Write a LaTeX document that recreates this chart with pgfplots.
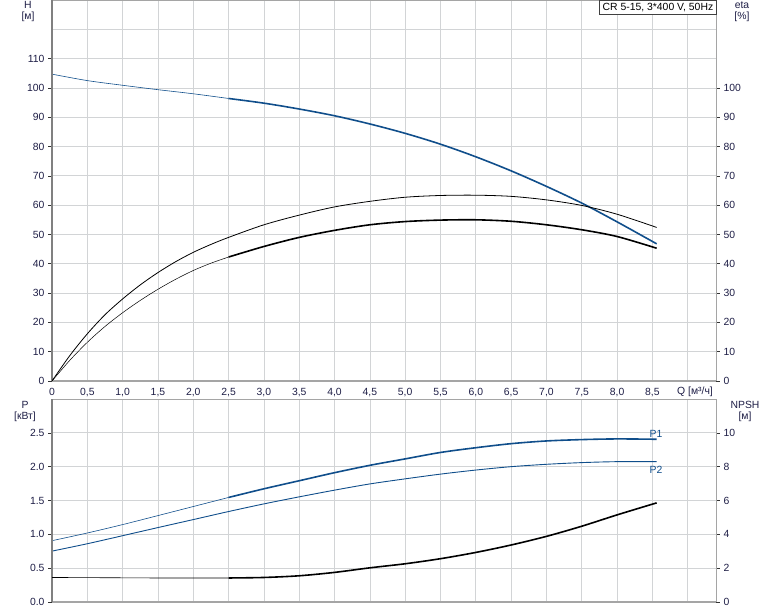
\documentclass[border=0pt]{standalone}
\usepackage{fontspec}
\setmainfont{Liberation Sans}
\usepackage{pgfplots}
\pgfplotsset{compat=1.18}
\definecolor{cblue}{RGB}{16,78,139}
\definecolor{txt}{RGB}{30,30,70}
\definecolor{gridc}{RGB}{210,212,214}
\definecolor{axc}{RGB}{128,128,128}
\definecolor{axl}{RGB}{165,165,165}

\pgfplotstableread{
x y
0 104.7
0.5 102.5
1.0 100.9
1.5 99.4
2.0 98.0
2.5 96.4
}\Hthin
\pgfplotstableread{
x y
2.5 96.4
3.0 94.8
3.5 92.8
4.0 90.5
4.5 87.7
5.0 84.5
5.5 80.8
6.0 76.5
6.5 71.7
7.0 66.4
7.5 60.7
8.0 54.3
8.56 46.8
}\Hthick
\pgfplotstableread{
x y
0 0
0.25 8.6
0.5 16.1
0.75 22.6
1.0 28.0
1.25 32.8
1.5 37.0
1.75 40.7
2.0 43.9
2.25 46.6
2.5 49.0
3.0 53.3
3.5 56.6
4.0 59.4
4.5 61.3
5.0 62.7
5.5 63.3
6.0 63.4
6.5 63.0
7.0 61.8
7.5 59.9
8.0 56.9
8.56 52.4
}\etaA
\pgfplotstableread{
x y
0 0
0.25 7.0
0.5 13.2
0.75 18.6
1.0 23.3
1.25 27.5
1.5 31.3
1.75 34.7
2.0 37.7
2.25 40.2
2.5 42.3
}\etaBthin
\pgfplotstableread{
x y
2.5 42.3
3.0 45.9
3.5 49.0
4.0 51.4
4.5 53.3
5.0 54.4
5.5 54.9
6.0 55.0
6.5 54.5
7.0 53.3
7.5 51.6
8.0 49.3
8.56 45.3
}\etaBthick
\pgfplotstableread{
x y
0 0.906
0.5 1.02
1.0 1.144
1.5 1.277
2.0 1.411
2.5 1.545
}\Pone
\pgfplotstableread{
x y
2.5 1.545
3.0 1.673
3.5 1.792
4.0 1.911
4.5 2.02
5.0 2.115
5.5 2.21
6.0 2.28
6.5 2.34
7.0 2.38
7.5 2.40
8.0 2.41
8.56 2.405
}\Ponethick
\pgfplotstableread{
x y
0 0.752
0.5 0.861
1.0 0.98
1.5 1.10
2.0 1.218
2.5 1.337
3.0 1.45
3.5 1.554
4.0 1.653
4.5 1.745
5.0 1.82
5.5 1.89
6.0 1.95
6.5 2.0
7.0 2.035
7.5 2.06
8.0 2.074
8.56 2.075
}\Ptwo
\pgfplotstableread{
x y
0 1.45
0.5 1.44
1.0 1.43
1.5 1.42
2.0 1.42
2.5 1.42
}\NPSHthin
\pgfplotstableread{
x y
2.5 1.42
3.0 1.45
3.5 1.55
4.0 1.75
4.5 2.02
5.0 2.26
5.5 2.56
6.0 2.93
6.5 3.37
7.0 3.88
7.5 4.48
8.0 5.15
8.56 5.86
}\NPSHthick

\pgfplotsset{
  base/.style={
    scale only axis, width=664pt, xmin=0, xmax=9.4, anchor=south west,
    font=\fontsize{10.4}{12}\selectfont,
    /pgf/number format/assume math mode=true,
    tick label style={text=txt},
    axis line style={draw=axl, line width=0.8pt},
    grid style={gridc, line width=0.7pt},
    y tick style={draw=black!80, line width=0.6pt},
    x tick style={draw=none},
    major tick length=4pt, tick align=outside,
    xtick={0,0.5,1,1.5,2,2.5,3,3.5,4,4.5,5,5.5,6,6.5,7,7.5,8,8.5,9},
    xtick pos=bottom,
  },
  leftax/.style={
    base, grid=major, ytick pos=left,
    after end axis/.code={
      \draw[line width=1.6pt, draw=axl] (rel axis cs:0,0)--(rel axis cs:1,0);
      \draw[line width=1.6pt, draw=axc] (rel axis cs:0,0)--(rel axis cs:0,1);
    },
  },
  rightax/.style={
    base, axis x line=none, axis y line*=right,
  },
}

\begin{document}
\begin{tikzpicture}
\useasboundingbox (0pt,0pt) rectangle (774pt,611pt);

% ---------- top: H ----------
\begin{axis}[leftax, at={(52pt,230pt)}, height=381pt,
  ymin=0, ymax=130,
  ytick={0,10,...,110},
  extra y ticks={120}, extra y tick labels={},
  extra y tick style={major tick length=0pt},
  xticklabels={0,{0,5},{1,0},{1,5},{2,0},{2,5},{3,0},{3,5},{4,0},{4,5},{5,0},{5,5},{6,0},{6,5},{7,0},{7,5},{8,0},{8,5},{}},
]
\addplot[cblue, line width=0.6pt, smooth] table {\Hthin};
\addplot[cblue, line width=1.6pt, smooth] table {\Hthick};
\end{axis}

\begin{axis}[rightax, at={(52pt,230pt)}, height=381pt,
  ymin=0, ymax=130, ytick={0,10,...,100},
]
\addplot[black, line width=0.8pt, smooth] table {\etaA};
\addplot[black, line width=0.5pt, smooth] table {\etaBthin};
\addplot[black, line width=1.6pt, smooth] table {\etaBthick};
\end{axis}

% ---------- bottom: P / NPSH ----------
\begin{axis}[leftax, at={(52pt,9pt)}, height=203pt,
  ymin=0, ymax=3,
  ytick={0,0.5,1,1.5,2,2.5},
  yticklabels={0.0,0.5,1.0,1.5,2.0,2.5},
  xticklabels={},
]
\addplot[cblue, line width=0.6pt, smooth] table {\Pone};
\addplot[cblue, line width=1.6pt, smooth] table {\Ponethick};
\addplot[cblue, line width=0.9pt, smooth] table {\Ptwo};
\node[cblue, font=\fontsize{10.4}{12}\selectfont] at (axis cs:8.55,2.49) {P1};
\node[cblue, font=\fontsize{10.4}{12}\selectfont] at (axis cs:8.55,1.96) {P2};
\end{axis}

\begin{axis}[rightax, at={(52pt,9pt)}, height=203pt,
  ymin=0, ymax=12, ytick={0,2,4,6,8,10},
]
\addplot[black, line width=0.6pt, smooth] table {\NPSHthin};
\addplot[black, line width=1.6pt, smooth] table {\NPSHthick};
\end{axis}

% ---------- labels ----------
\begin{scope}[every node/.style={text=txt, font=\fontsize{10.4}{12}\selectfont, inner sep=0pt}]
\node at (28pt,606pt) {H};
\node at (28pt,594pt) {[м]};
\node at (742pt,606pt) {eta};
\node at (742pt,594pt) {[\%]};
\node at (25pt,206.5pt) {P};
\node at (25pt,194.5pt) {[кВт]};
\node at (745pt,206.5pt) {NPSH};
\node at (745pt,194.5pt) {[м]};
\node at (695pt,219pt) {Q [м³/ч]};
\end{scope}
\node[draw=black!75, line width=0.5pt, fill=white, anchor=north east,
  inner xsep=3pt, inner ysep=2.5pt, font=\fontsize{10.4}{12}\selectfont, text=black]
  at (716.5pt,611pt) {CR 5-15, 3*400 V, 50Hz};
\end{tikzpicture}
\end{document}
